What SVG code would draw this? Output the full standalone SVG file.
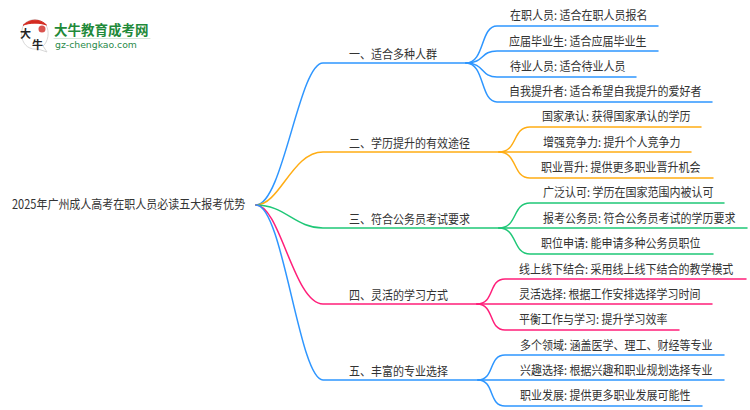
<svg xmlns="http://www.w3.org/2000/svg" width="750" height="410" viewBox="0 0 750 410">
<style>
text{font-family:"Noto Sans CJK SC","Liberation Sans",sans-serif;font-size:12.5px;fill:#333}
g[id^=n] text,#root text{transform-box:fill-box;transform-origin:0 50%;transform:scaleX(.88)}
path{fill:none;stroke-width:1.5;stroke-linecap:round}
.b{stroke:#2e96ff}.o{stroke:#ffad14}.g{stroke:#1fc777}.p{stroke:#ff1f7a}
.logo1{font-size:13.5px;font-weight:700;fill:#1f8a3a}
.logo2{font-family:"DejaVu Sans",sans-serif;font-size:9.3px;fill:#2a8a4a}
.brush{font-size:11px;font-weight:700;fill:#222}
</style>
<g id="connectors">
<path class="b" d="M256 205C283 205 299 63 323 63H466"/>
<path class="o" d="M256 205C280 205 292 152 323 152H499"/>
<path class="g" d="M256 205C285 205 295 228 323 228H499"/>
<path class="p" d="M256 205C280 205 294 304 323 304H477"/>
<path class="b" d="M256 205C283 205 299 380 323 380H478"/>
<path class="b" d="M466 63C485 63 480 26 497 26H658"/>
<path class="b" d="M466 63C485 63 480 51 497 51H658"/>
<path class="b" d="M466 63C485 63 480 77 497 77H636"/>
<path class="b" d="M466 63C485 63 480 102 497 102H712"/>
<path class="o" d="M499 152C518 152 512 127 530 127H701"/>
<path class="o" d="M499 152H691"/>
<path class="o" d="M499 152C518 152 512 178 530 178H713"/>
<path class="g" d="M499 228C518 228 512 203 530 203H724"/>
<path class="g" d="M499 228H747"/>
<path class="g" d="M499 228C518 228 512 254 530 254H713"/>
<path class="p" d="M477 304C495 304 488 279 505 279H746"/>
<path class="p" d="M477 304H712"/>
<path class="p" d="M477 304C495 304 488 330 505 330H679"/>
<path class="b" d="M478 380C495 380 488 355 505 355H724"/>
<path class="b" d="M478 380H724"/>
<path class="b" d="M478 380C495 380 488 406 505 406H702"/>
</g>
<g id="logo">
<path d="M24 24C30 18 40 18 46 25C50 32 48 42 43 46L47 52L38 49C30 50 24 46 22 38C21 32 22 28 24 24Z" style="fill:#fff;stroke:#d8d8d8;stroke-width:1"/>
<path d="M23.500 25C30 18.500 40 18.500 46.500 25C40 22.500 30 22.500 23.500 25Z" style="fill:#d42a20;stroke:#d42a20;stroke-width:1"/>
<circle cx="42" cy="29" r="3.500" style="fill:#d9534f;stroke:none"/>
<text x="20" y="38" class="brush">大</text>
<text x="32" y="49" class="brush">牛</text>
<text x="54" y="35" class="logo1">大牛教育成考网</text>
<path d="M54 38.500H150" style="stroke:#d5e5d8;stroke-width:1"/>
<text x="55" y="48" class="logo2">gz-chengkao.com</text>
</g>
<g id="root"><text x="12" y="209">2025年广州成人高考在职人员必读五大报考优势</text></g>
<g id="n1"><text x="349" y="59">一、适合多种人群</text></g>
<g id="n2"><text x="349" y="148">二、学历提升的有效途径</text></g>
<g id="n3"><text x="349" y="224">三、符合公务员考试要求</text></g>
<g id="n4"><text x="349" y="300">四、灵活的学习方式</text></g>
<g id="n5"><text x="349" y="376">五、丰富的专业选择</text></g>
<g id="n11"><text x="510" y="20">在职人员: 适合在职人员报名</text></g>
<g id="n12"><text x="509" y="46">应届毕业生: 适合应届毕业生</text></g>
<g id="n13"><text x="510" y="71">待业人员: 适合待业人员</text></g>
<g id="n14"><text x="509" y="96">自我提升者: 适合希望自我提升的爱好者</text></g>
<g id="n21"><text x="542" y="121">国家承认: 获得国家承认的学历</text></g>
<g id="n22"><text x="543" y="147">增强竞争力: 提升个人竞争力</text></g>
<g id="n23"><text x="541" y="172">职业晋升: 提供更多职业晋升机会</text></g>
<g id="n31"><text x="543" y="197">广泛认可: 学历在国家范围内被认可</text></g>
<g id="n32"><text x="543" y="223">报考公务员: 符合公务员考试的学历要求</text></g>
<g id="n33"><text x="541" y="248">职位申请: 能申请多种公务员职位</text></g>
<g id="n41"><text x="519" y="274">线上线下结合: 采用线上线下结合的教学模式</text></g>
<g id="n42"><text x="519" y="299">灵活选择: 根据工作安排选择学习时间</text></g>
<g id="n43"><text x="519" y="324">平衡工作与学习: 提升学习效率</text></g>
<g id="n51"><text x="520" y="350">多个领域: 涵盖医学、理工、财经等专业</text></g>
<g id="n52"><text x="520" y="375">兴趣选择: 根据兴趣和职业规划选择专业</text></g>
<g id="n53"><text x="520" y="400">职业发展: 提供更多职业发展可能性</text></g>
</svg>
